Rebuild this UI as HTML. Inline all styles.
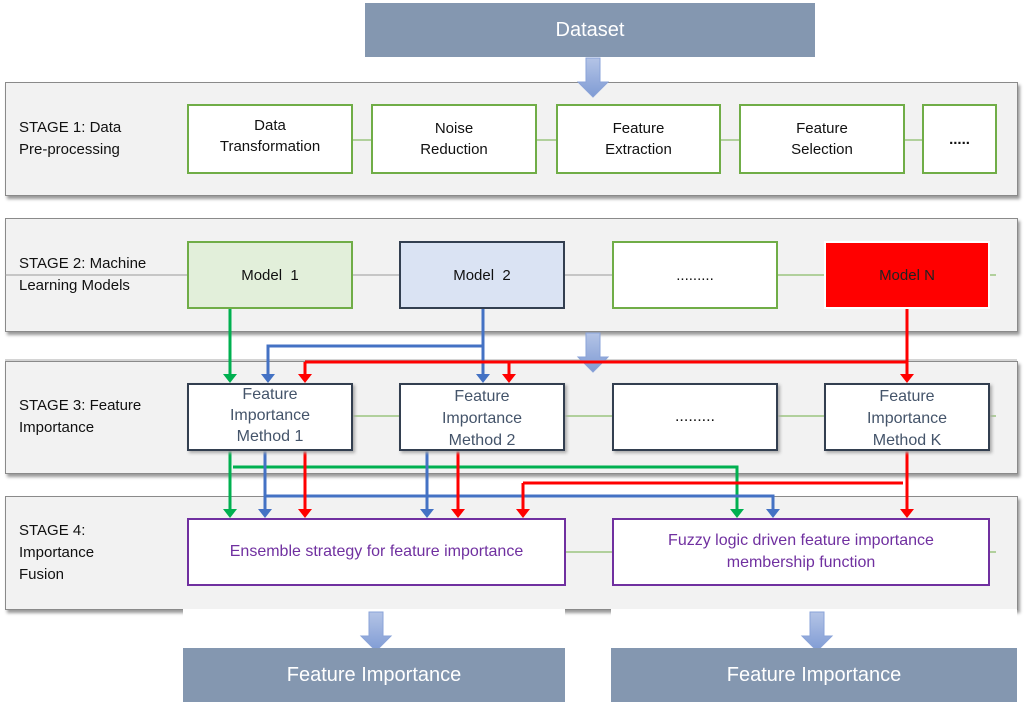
<!DOCTYPE html>
<html><head><meta charset="utf-8"><style>
body{margin:0;width:1027px;height:702px;background:#fff;position:relative;overflow:hidden;font-family:"Liberation Sans",sans-serif}
.p{position:absolute;left:5px;width:1011px;background:#f2f2f2;border:1px solid #8a8a8a;box-shadow:2px 3px 3px #999}
.lab{position:absolute;left:19px;font-size:15px;line-height:22px;color:#111}
.b{position:absolute;display:flex;align-items:center;justify-content:center;text-align:center;font-size:15px;line-height:21px;box-sizing:border-box;background:#fff}
.g{border:2px solid #70ad47;color:#111}
.d{border:2px solid #333f50;color:#44546a;box-shadow:2px 2px 3px #aaa;font-size:16px;line-height:22px}
.u{border:2px solid #7030a0;color:#7030a0;font-size:16px;line-height:22px}
.h{position:absolute;background:#8497b0;color:#fff;font-size:20px;display:flex;align-items:center;justify-content:center}
svg{position:absolute;left:0;top:0}
</style></head><body>
<div class="h" style="left:365px;top:3px;width:450px;height:54px">Dataset</div>
<div class="p" style="top:82px;height:112px"></div>
<div class="p" style="top:218px;height:112px"></div>
<div class="p" style="top:361px;height:111px"></div>
<div class="p" style="top:496px;height:112px"></div>
<div style="position:absolute;left:183px;top:609px;width:382px;height:30px;background:#fff"></div>
<div style="position:absolute;left:611px;top:609px;width:406px;height:30px;background:#fff"></div>
<svg width="1027" height="702">
<g stroke="#70ad47" stroke-width="1"><line x1="187" y1="140" x2="996" y2="140"/><line x1="612" y1="416" x2="996" y2="416"/><line x1="352" y1="416" x2="612" y2="416"/><line x1="565" y1="552" x2="996" y2="552"/><line x1="612" y1="275" x2="996" y2="275"/></g>
<g stroke="#999" stroke-width="1"><line x1="5" y1="275" x2="612" y2="275"/><line x1="5" y1="360" x2="1017" y2="360" stroke="#aaa"/></g>
<defs><linearGradient id="bg" x1="0" y1="0" x2="0" y2="1"><stop offset="0" stop-color="#b4c4e6"/><stop offset="1" stop-color="#7f9bd4"/></linearGradient></defs>
<g fill="url(#bg)" stroke="#8aa3d8"><path d="M586 58h14v24h8l-15 15l-15-15h8z"/><path d="M586 333h14v24h8l-15 15l-15-15h8z"/><path d="M369 612h14v24h8l-15 15l-15-15h8z"/><path d="M810 612h14v24h8l-15 15l-15-15h8z"/></g>
<g fill="none" stroke-width="3">
<path stroke="#00b050" d="M230 308V376M230 450V511M233 467H737V511"/>
<path stroke="#4472c4" d="M483 308V376M483 346H268V376M265 450V511M427 450V511M265 496H773V511"/>
<path stroke="#ff0000" d="M907 308V376M305 362H907M305 362V376M509 362V376M305 450V511M458 450V511M907 450V511M523 483H903M523 483V511"/>
</g>
<g stroke="none">
<path fill="#00b050" d="M223 374h14l-7 9zM223 509h14l-7 9zM730 509h14l-7 9z"/>
<path fill="#4472c4" d="M476 374h14l-7 9zM261 374h14l-7 9zM258 509h14l-7 9zM420 509h14l-7 9zM766 509h14l-7 9z"/>
<path fill="#ff0000" d="M900 374h14l-7 9zM298 374h14l-7 9zM502 374h14l-7 9zM298 509h14l-7 9zM451 509h14l-7 9zM900 509h14l-7 9zM516 509h14l-7 9z"/>
</g>
</svg>
<div class="lab" style="top:117px">STAGE 1: Data<br>Pre-processing</div>
<div class="lab" style="top:253px">STAGE 2: Machine<br>Learning Models</div>
<div class="lab" style="top:395px">STAGE 3: Feature<br>Importance</div>
<div class="lab" style="top:520px">STAGE 4:<br>Importance<br>Fusion</div>
<div class="b g" style="left:187px;top:104px;width:166px;height:70px;padding-bottom:6px">Data<br>Transformation</div>
<div class="b g" style="left:371px;top:104px;width:166px;height:70px">Noise<br>Reduction</div>
<div class="b g" style="left:556px;top:104px;width:165px;height:70px">Feature<br>Extraction</div>
<div class="b g" style="left:739px;top:104px;width:166px;height:70px">Feature<br>Selection</div>
<div class="b g" style="left:922px;top:104px;width:75px;height:70px;font-weight:bold">.....</div>
<div class="b g" style="left:187px;top:241px;width:166px;height:68px;background:#e2efda">Model&nbsp; 1</div>
<div class="b" style="left:399px;top:241px;width:166px;height:68px;background:#dae3f3;border:2px solid #333f50;color:#111">Model&nbsp; 2</div>
<div class="b g" style="left:612px;top:241px;width:166px;height:68px">.........</div>
<div class="b" style="left:824px;top:241px;width:166px;height:68px;background:#ff0000;border:2px solid #fff;color:#222">Model N</div>
<div class="b d" style="left:187px;top:383px;width:166px;height:68px;padding-bottom:4px;line-height:21px">Feature<br>Importance<br>Method 1</div>
<div class="b d" style="left:399px;top:383px;width:166px;height:68px;padding-top:3px">Feature<br>Importance<br>Method 2</div>
<div class="b d" style="left:612px;top:383px;width:166px;height:68px;color:#111">.........</div>
<div class="b d" style="left:824px;top:383px;width:166px;height:68px;padding-top:3px">Feature<br>Importance<br>Method K</div>
<div class="b u" style="left:187px;top:518px;width:379px;height:68px">Ensemble strategy for feature importance</div>
<div class="b u" style="left:612px;top:518px;width:378px;height:68px">Fuzzy logic driven feature importance<br>membership function</div>
<div class="h" style="left:183px;top:648px;width:382px;height:54px">Feature Importance</div>
<div class="h" style="left:611px;top:648px;width:406px;height:54px">Feature Importance</div>
</body></html>
